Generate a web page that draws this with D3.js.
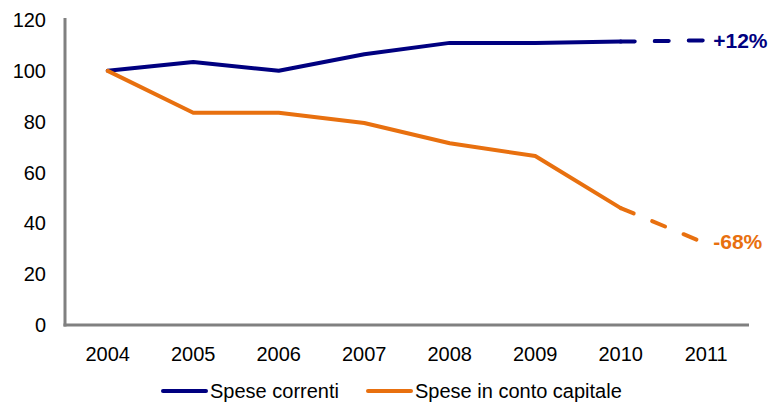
<!DOCTYPE html>
<html>
<head>
<meta charset="utf-8">
<script src="https://cdn.jsdelivr.net/npm/d3@7"></script>
<style>
  body { margin: 0; background: #fff; }
  svg text { font-family: "Liberation Sans", Arial, sans-serif; }
</style>
</head>
<body>
<div id="chart"></div>
<script>
const years = ["2004", "2005", "2006", "2007", "2008", "2009", "2010", "2011"];
const correnti = [100, 103.5, 100, 106.5, 111, 111, 111.5, 112];
const capitale = [100, 83.5, 83.5, 79.5, 71.5, 66.5, 46, 32];
const yTicks = [0, 20, 40, 60, 80, 100, 120];
const endLabels = ["+12%", "-68%"];
const seriesNames = ["Spese correnti", "Spese in conto capitale"];
const colors = ["#000080", "#E8700F"];

const W = 771, H = 404;
const margin = { top: 20, right: 22, bottom: 79, left: 65 };

const svg = d3.select("#chart").append("svg")
  .attr("width", W).attr("height", H);

const x = d3.scaleBand().domain(years).range([margin.left, W - margin.right]);
const y = d3.scaleLinear().domain([0, 120]).range([H - margin.bottom, margin.top]);

// axes
svg.append("line")
  .attr("x1", margin.left).attr("x2", margin.left)
  .attr("y1", y(120) - 2).attr("y2", y(0) + 1.5)
  .attr("stroke", "#808080").attr("stroke-width", 3);
svg.append("line")
  .attr("x1", margin.left - 1.5).attr("x2", W - margin.right)
  .attr("y1", y(0)).attr("y2", y(0))
  .attr("stroke", "#808080").attr("stroke-width", 3);

svg.selectAll(".ylab").data(yTicks).enter().append("text")
  .attr("x", 46).attr("y", d => y(d))
  .attr("dy", "0.35em").attr("text-anchor", "end")
  .attr("font-size", 20).attr("fill", "#000")
  .text(d => d);

svg.selectAll(".xlab").data(years).enter().append("text")
  .attr("x", d => x(d) + x.bandwidth() / 2).attr("y", 361)
  .attr("text-anchor", "middle")
  .attr("font-size", 20).attr("fill", "#000")
  .text(d => d);

const line = d3.line()
  .x(d => x(d.year) + x.bandwidth() / 2)
  .y(d => y(d.v));

[correnti, capitale].forEach((vals, i) => {
  const pts = years.map((yr, j) => ({ year: yr, v: vals[j] }));
  svg.append("path")
    .datum(pts.slice(0, 7))
    .attr("d", line)
    .attr("fill", "none").attr("stroke", colors[i])
    .attr("stroke-width", 4).attr("stroke-linejoin", "round").attr("stroke-linecap", "round");
  svg.append("path")
    .datum(pts.slice(6))
    .attr("d", line)
    .attr("fill", "none").attr("stroke", colors[i])
    .attr("stroke-width", 4).attr("stroke-linecap", "round")
    .attr("stroke-dasharray", "14,20");
  const last = pts[7];
  svg.append("text")
    .attr("x", x(last.year) + x.bandwidth() / 2 + 7)
    .attr("y", y(last.v) + (i === 0 ? 0.5 : -2))
    .attr("dy", "0.35em")
    .attr("font-size", 21).attr("font-weight", "bold")
    .attr("fill", colors[i])
    .text(endLabels[i]);
});

// legend
const legendX = [163, 368];
seriesNames.forEach((name, i) => {
  const g = svg.append("g").attr("transform", `translate(${legendX[i]},391)`);
  g.append("line").attr("x1", 0).attr("x2", 43)
    .attr("stroke", colors[i]).attr("stroke-width", 4).attr("stroke-linecap", "round");
  g.append("text").attr("x", 47).attr("dy", "0.35em")
    .attr("font-size", 20).attr("fill", "#000").text(name);
});
</script>
</body>
</html>
